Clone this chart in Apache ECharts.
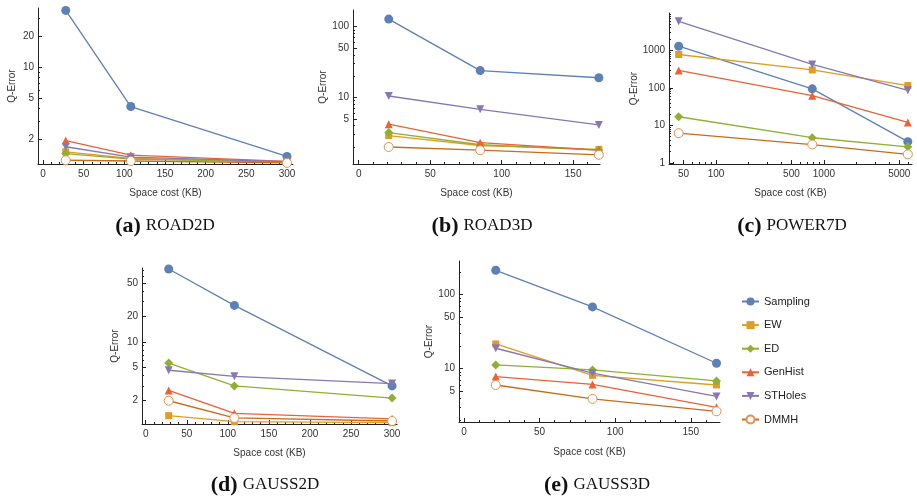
<!DOCTYPE html>
<html><head><meta charset="utf-8">
<script src="https://cdn.jsdelivr.net/npm/echarts@6/dist/echarts.min.js"></script>
<style>html,body{margin:0;padding:0;background:#fff}#c{width:917px;height:497px}</style>
</head><body><div id="c"></div>
<script>
const seriesNames = ['Sampling','EW','ED','GenHist','STHoles','DMMH'];
const lineColors = ['#5E81B5','#E19C24','#8FB032','#EB6235','#8778B3','#C56E1A'];

// (a) ROAD2D
const xA = [28, 108, 300];
const aSampling = [36, 4.15, 1.35];
const aEW = [1.5, 1.29, 1.2];
const aED = [1.44, 1.27, 1.19];
const aGenHist = [1.93, 1.39, 1.21];
const aSTHoles = [1.68, 1.33, 1.2];
const aDMMH = [1.24, 1.22, 1.17];
// (b) ROAD3D
const xB = [21, 85, 168];
const bSampling = [128, 24, 19];
const bEW = [2.9, 2.1, 1.85];
const bED = [3.2, 2.15, 1.8];
const bGenHist = [4.2, 2.3, 1.8];
const bSTHoles = [10.5, 6.8, 4.1];
const bDMMH = [2.0, 1.8, 1.55];
// (c) POWER7D
const xC = [45, 780, 6000];
const cSampling = [1280, 94, 3.7];
const cEW = [770, 300, 115];
const cED = [17, 4.7, 2.7];
const cGenHist = [290, 62, 12];
const cSTHoles = [5900, 420, 86];
const cDMMH = [6.2, 3.1, 1.7];
// (d) GAUSS2D
const xD = [28, 108, 300];
const dSampling = [73, 27, 3.0];
const dEW = [1.33, 1.13, 1.1];
const dED = [5.6, 3.0, 2.15];
const dGenHist = [2.65, 1.42, 1.22];
const dSTHoles = [4.6, 3.9, 3.2];
const dDMMH = [2.0, 1.25, 1.15];
// (e) GAUSS3D
const xE = [21, 85, 167];
const eSampling = [212, 68, 11.8];
const eEW = [21.5, 8.1, 6.0];
const eED = [11.2, 9.6, 6.8];
const eGenHist = [7.8, 6.1, 3.0];
const eSTHoles = [18.8, 8.7, 4.2];
const eDMMH = [6.0, 3.9, 2.65];

// tick labels
const xTicksA = [0, 50, 100, 150, 200, 250, 300];
const xTicksB = [0, 50, 100, 150];
const xTicksC = [50, 100, 500, 1000, 5000];
const xTicksD = [0, 50, 100, 150, 200, 250, 300];
const xTicksE = [0, 50, 100, 150];
const yTicksA = [2, 5, 10, 20];
const yTicksB = [5, 10, 50, 100];
const yTicksC = [1, 10, 100, 1000];
const yTicksD = [2, 5, 10, 20, 50];
const yTicksE = [5, 10, 50, 100];

const captions = [['(a)','ROAD2D'],['(b)','ROAD3D'],['(c)','POWER7D'],['(d)','GAUSS2D'],['(e)','GAUSS3D']];

const panels = [
  {x:xA, ys:[aSampling,aEW,aED,aGenHist,aSTHoles,aDMMH], xTicks:xTicksA, yTicks:yTicksA, xLog:false,
   grid:{left:38, top:8, width:255, height:156}, xMin:-6.1, xMax:307.4, yMin:1.14, yMax:38, yGap:21, xGap:24, cap:[160,210]},
  {x:xB, ys:[bSampling,bEW,bED,bGenHist,bSTHoles,bDMMH], xTicks:xTicksB, yTicks:yTicksB, xLog:false,
   grid:{left:353, top:10, width:247, height:154}, xMin:-4, xMax:168.8, yMin:1.15, yMax:172, yGap:17, xGap:24, cap:[477,210]},
  {x:xC, ys:[cSampling,cEW,cED,cGenHist,cSTHoles,cDMMH], xTicks:xTicksC, yTicks:yTicksC, xLog:true,
   grid:{left:669, top:13, width:243, height:151}, xMin:36.6, xMax:6560, yMin:0.94, yMax:9800, yGap:20, xGap:24, cap:[787,210]},
  {x:xD, ys:[dSampling,dEW,dED,dGenHist,dSTHoles,dDMMH], xTicks:xTicksD, yTicks:yTicksD, xLog:false,
   grid:{left:142, top:268, width:255, height:156}, xMin:-4.5, xMax:306, yMin:1.06, yMax:75, yGap:22, xGap:24, cap:[260,469]},
  {x:xE, ys:[eSampling,eEW,eED,eGenHist,eSTHoles,eDMMH], xTicks:xTicksE, yTicks:yTicksE, xLog:false,
   grid:{left:459, top:261, width:261, height:161}, xMin:-3.3, xMax:169.3, yMin:1.9, yMax:283, yGap:19, xGap:25, cap:[592,469]}
];

function logMinor(min, max) {
  const out = [];
  for (let e = -1; e <= 5; e++) {
    for (let m = 1; m <= 9; m++) {
      const v = m * Math.pow(10, e);
      if (v >= min && v <= max) out.push(v);
    }
  }
  return out;
}
function linMinor(min, max, step) {
  const out = [];
  for (let v = Math.ceil(min / step) * step; v <= max; v += step) out.push(v);
  return out;
}
const fmt = v => String(Math.round(v * 1000) / 1000);

const symbols = ['circle','rect','diamond','triangle','triangle','circle'];
const symbolSizes = [9, 7, 9, 8, 8, 9];
const symbolRot = [0, 0, 0, 0, 180, 0];
const markerFill = ['#5E81B5','#E19C24','#8FB032','#EB6235','#8778B3','#ffffff'];
const markerStroke = ['#5E81B5','#E19C24','#8FB032','#EB6235','#8778B3','#E2914F'];

const axisFont = {fontFamily:'Liberation Sans, Arial, sans-serif', fontSize:10, color:'#333'};
const grids = [], xAxes = [], yAxes = [], series = [], titles = [];

panels.forEach((p, i) => {
  grids.push(p.grid);
  const xBase = {gridIndex:i, position:'bottom', min:p.xMin, max:p.xMax, splitLine:{show:false}, type: p.xLog ? 'log' : 'value'};
  xAxes.push(Object.assign({}, xBase, {
    name:'Space cost (KB)', nameLocation:'middle', nameGap:p.xGap,
    nameTextStyle:Object.assign({}, axisFont),
    axisLine:{show:true, onZero:false, lineStyle:{color:'#222', width:1}},
    axisTick:{show:true, inside:true, length:4, customValues:p.xTicks, lineStyle:{color:'#222'}},
    axisLabel:Object.assign({customValues:p.xTicks, margin:5, formatter:fmt}, axisFont),
    minorTick:{show:false}
  }));
  xAxes.push(Object.assign({}, xBase, {
    axisLine:{show:false, onZero:false},
    axisTick:{show:true, inside:true, length:2, customValues: p.xLog ? logMinor(p.xMin, p.xMax) : linMinor(p.xMin, p.xMax, 10), lineStyle:{color:'#222'}},
    axisLabel:{show:false}
  }));
  const yBase = {gridIndex:i, position:'left', type:'log', logBase:10, min:p.yMin, max:p.yMax, splitLine:{show:false}};
  yAxes.push(Object.assign({}, yBase, {
    name:'Q-Error', nameLocation:'middle', nameGap:p.yGap,
    nameTextStyle:Object.assign({}, axisFont),
    axisLine:{show:true, onZero:false, lineStyle:{color:'#222', width:1}},
    axisTick:{show:true, inside:true, length:4, customValues:p.yTicks, lineStyle:{color:'#222'}},
    axisLabel:Object.assign({customValues:p.yTicks, margin:4, formatter:fmt}, axisFont)
  }));
  yAxes.push(Object.assign({}, yBase, {
    axisLine:{show:false, onZero:false},
    axisTick:{show:true, inside:true, length:2, customValues:logMinor(p.yMin, p.yMax), lineStyle:{color:'#222'}},
    axisLabel:{show:false}
  }));
  p.ys.forEach((vals, k) => {
    series.push({
      type:'line', name:seriesNames[k],
      xAxisIndex:2*i, yAxisIndex:2*i,
      data: p.x.map((xv, j) => [xv, vals[j]]),
      symbol:symbols[k], symbolSize:symbolSizes[k], symbolRotate:symbolRot[k],
      showAllSymbol:true,
      lineStyle:{color:lineColors[k], width:1.3},
      itemStyle:{color:markerFill[k], borderColor:markerStroke[k], borderWidth: k===5 ? 1 : 0},
      emphasis:{disabled:true},
      animation:false, z: 2 + k
    });
  });
  titles.push({
    text:'{b|' + captions[i][0] + '} {n|' + captions[i][1] + '}',
    left:p.cap[0], top:p.cap[1], textAlign:'center',
    textStyle:{fontWeight:'normal', rich:{
      b:{fontFamily:'Liberation Serif, DejaVu Serif, serif', fontWeight:'bold', fontSize:22, color:'#111'},
      n:{fontFamily:'Liberation Serif, DejaVu Serif, serif', fontWeight:'normal', fontSize:17, color:'#111'}
    }}
  });
});

const chart = echarts.init(document.getElementById('c'), null, {renderer:'canvas'});
chart.setOption({
  animation:false,
  backgroundColor:'#fff',
  title: titles,
  grid: grids,
  xAxis: xAxes,
  yAxis: yAxes,
  legend:{
    data: seriesNames, orient:'vertical', left:736, top:291,
    itemWidth:17, itemHeight:10, itemGap:12.6,
    textStyle:{fontFamily:'Liberation Sans, Arial, sans-serif', fontSize:11, color:'#222'},
    selectedMode:false
  },
  series: series
});
</script>
</body></html>
